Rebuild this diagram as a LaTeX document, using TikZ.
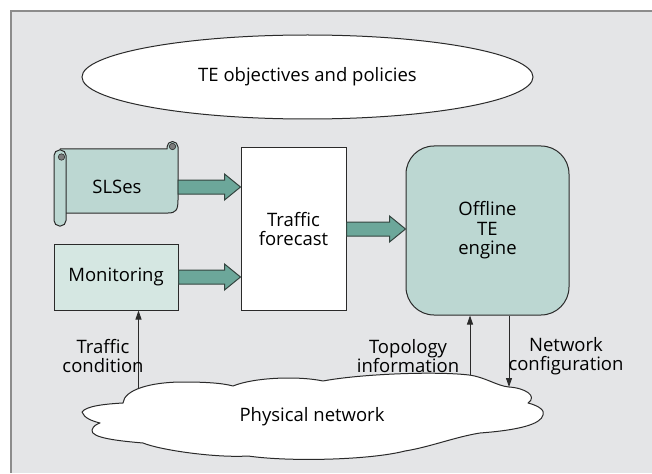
\documentclass[tikz,border=0pt]{standalone}
\usepackage{fontspec}
\setmainfont{Open Sans}
\usetikzlibrary{calc,arrows.meta,shapes.geometric}

\definecolor{panel}{HTML}{E4E5E7}
\definecolor{framegray}{HTML}{8C8C8C}
\definecolor{tealfill}{HTML}{BCD7D2}
\definecolor{monfill}{HTML}{D5E7E2}
\definecolor{arrowfill}{HTML}{6CA79A}
\definecolor{arrowline}{HTML}{34443F}
\definecolor{inkline}{HTML}{2A2A2A}
\definecolor{curlgray}{HTML}{7C7C7C}

\tikzset{
  lbl/.style={font=\fontsize{18.5}{19.5}\selectfont, text=black, align=center, inner sep=0pt},
  boxline/.style={draw=inkline, line width=1pt},
  fatarrow/.style={draw=arrowline, fill=arrowfill, line width=1pt, line join=miter},
  thinarrow/.style={draw=inkline, line width=0.9pt, -{Triangle[length=9pt,width=6pt]}},
}

% block arrow from anchor #1 to the point #2 (same height as #1)
\newcommand{\fatarrowfromto}[2]{%
  \draw[fatarrow] let \p1=(#1), \p2=(#2) in
    (\x1,\y1+7pt) -- (\x2-16pt,\y1+7pt) -- (\x2-16pt,\y1+13pt) -- (\x2,\y1)
    -- (\x2-16pt,\y1-13pt) -- (\x2-16pt,\y1-7pt) -- (\x1,\y1-7pt) -- cycle;}

\begin{document}
\begin{tikzpicture}[x=1pt,y=-1pt]
\useasboundingbox (0,0) rectangle (652,473);

% panel and its frame
\fill[white] (0,0) rectangle (652,473);
\fill[panel] (11,11) rectangle (652,473);
\draw[framegray, line width=1.8pt] (652,11) -- (11,11) -- (11,473);

% objectives
\node[ellipse, boxline, fill=white, minimum width=451pt, minimum height=84pt, inner sep=0pt,
      lbl] (obj) at (307.5,77) {TE objectives and policies};

% SLSes scroll: sheet, top-right curl, left roll
\draw[boxline, fill=tealfill, line join=round]
  (60,149) -- (167,149) -- (167,147) arc[start angle=180, end angle=360, radius=5.5]
  -- (178,200) .. controls (178,210) and (176,213) .. (168,213) -- (60,213) -- cycle;
\filldraw[draw=inkline, fill=curlgray, line width=0.6pt] (172.5,146.5) circle (3.2);
\draw[boxline, fill=tealfill, rounded corners=5.5pt] (54,150) rectangle (66,226);
\filldraw[draw=inkline, fill=curlgray, line width=0.6pt] (61.5,157) circle (3.2);
\node[lbl, minimum width=122pt, minimum height=40pt] (sls) at (117,187) {SLSes};

% monitoring
\node[boxline, fill=monfill, minimum width=124pt, minimum height=66pt, inner sep=0pt,
      lbl] (mon) at (116,277) {Monitoring};

% traffic forecast
\node[boxline, fill=white, minimum width=105pt, minimum height=162pt, inner sep=0pt,
      lbl] (fc) at (293.5,229) {Traffic\\forecast};

% offline engine
\node[boxline, fill=tealfill, rounded corners=28pt, minimum width=163pt, minimum height=169pt,
      inner sep=0pt, lbl] (eng) at (487.5,230.5) {Offline\\TE\\engine};

% block arrows
\fatarrowfromto{sls.east}{fc.west |- sls.east}
\fatarrowfromto{mon.east}{fc.west |- mon.east}
\fatarrowfromto{fc.east}{eng.west |- fc.east}

% physical network cloud
\draw[boxline, fill=white, line join=round]
  (82,412) .. controls (86,406) and (105,404) .. (123,403)
  .. controls (124,390) and (150,382) .. (183,382)
  .. controls (205,382) and (222,383) .. (233,386)
  .. controls (255,377) and (300,376) .. (323,381)
  .. controls (360,374) and (435,371) .. (469,375)
  .. controls (485,377) and (497,386) .. (509,387)
  .. controls (525,388) and (538,396) .. (528,403)
  .. controls (540,406) and (545,411) .. (543,415)
  .. controls (541,424) and (520,430) .. (480,433)
  .. controls (455,437) and (430,447) .. (405,451)
  .. controls (370,460) and (290,462) .. (248,456)
  .. controls (215,458) and (160,450) .. (143,443)
  .. controls (120,441) and (90,438) .. (92,430)
  .. controls (93,426) and (97,424) .. (100,423)
  .. controls (92,421) and (84,418) .. cycle;
\node[lbl] (net) at (312,417) {Physical network};

% attachment points on the cloud outline
\coordinate (cTraffic) at (138.5,388);
\coordinate (cTopo) at (470,375);
\coordinate (cConf) at (509,387);

% thin connectors
\draw[thinarrow] (cTraffic) -- (mon.south -| cTraffic);
\draw[thinarrow] (cTopo) -- (eng.south -| cTopo);
\draw[thinarrow] (eng.south -| cConf) -- (cConf);

% connector labels
\node[lbl] (lTraffic) at (103,356) {Traffic\\condition};
\node[lbl] (lTopo) at (408,356) {Topology\\information};
\node[lbl] (lConf) at (566,356) {Network\\configuration};
\end{tikzpicture}
\end{document}
